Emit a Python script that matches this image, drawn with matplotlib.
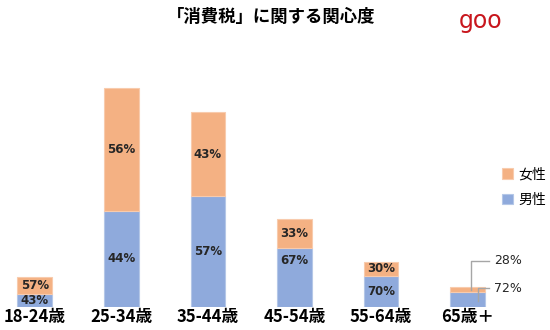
import matplotlib.pyplot as plt
import numpy as np

# データ
age_groups = ["18-24歳", "25-34歳", "35-44歳", "45-54歳", "55-64歳", "65歳＋"]
male = [13, 96, 111, 59, 31, 15]
female = [17, 123, 84, 29, 14, 5]
male_pct = ["43%", "44%", "57%", "67%", "70%", "72%"]
female_pct = ["57%", "56%", "43%", "33%", "30%", "28%"]

plt.rcParams['font.family'] = ['Noto Sans CJK JP', 'DejaVu Sans']

c_male = "#8FAADC"
c_female = "#F4B183"

fig = plt.figure(figsize=(5.5, 3.3), dpi=100)
ax = fig.add_axes([0, 23 / 330, 1, 247 / 330])

x = np.arange(len(age_groups))
b1 = ax.bar(x, male, width=0.4, color=c_male, edgecolor="#B4C7E7", linewidth=0.8, label="男性")
b2 = ax.bar(x, female, width=0.4, bottom=male, color=c_female, edgecolor="#F8CBAD", linewidth=0.8, label="女性")

ax.set_xlim(-0.4, 5.95)
ax.set_ylim(0, 247)

# ラベル
txt = dict(ha="center", va="center", fontsize=8.5, fontweight="bold", color="#262626", family="DejaVu Sans")
for i in range(len(age_groups)):
    if i == 5:
        continue
    ym = male[i] / 2
    if i == 3:
        ym = male[i] - 12
    ax.text(x[i], ym, male_pct[i], **txt)
    ax.text(x[i], male[i] + female[i] / 2, female_pct[i], **txt)

# 65歳＋ は外側にラベル
i = 5
gray = "#A6A6A6"
ax.plot([x[i] + 0.04, x[i] + 0.04, x[i] + 0.25], [male[i] + 2, 46, 46], color=gray, lw=1)
ax.plot([x[i] + 0.12, x[i] + 0.12, x[i] + 0.25], [6, 19, 19], color=gray, lw=1)
ax.text(x[i] + 0.3, 46, female_pct[i], ha="left", va="center", fontsize=9, color="#262626", family="DejaVu Sans")
ax.text(x[i] + 0.3, 19, male_pct[i], ha="left", va="center", fontsize=9, color="#262626", family="DejaVu Sans")

ax.set_xticks(x)
ax.set_xticklabels(age_groups, fontsize=12, fontweight="bold")
ax.tick_params(axis="x", length=0, pad=1)
ax.set_yticks([])
for s in ax.spines.values():
    s.set_visible(False)

ax.legend(handles=[b2, b1], loc="upper left", bbox_to_anchor=(0.89, 0.615), frameon=False,
          handlelength=0.8, handleheight=0.8, handletextpad=0.4, labelspacing=0.8,
          prop={"size": 10})

fig.text(0.493, 0.948, "「消費税」に関する関心度", ha="center", va="center", fontsize=12.5, fontweight="bold")
fig.text(0.873, 0.935, "goo", ha="center", va="center", fontsize=17, fontweight="medium",
         color="#C8161D", family="DejaVu Sans")

fig.savefig("out.png")
